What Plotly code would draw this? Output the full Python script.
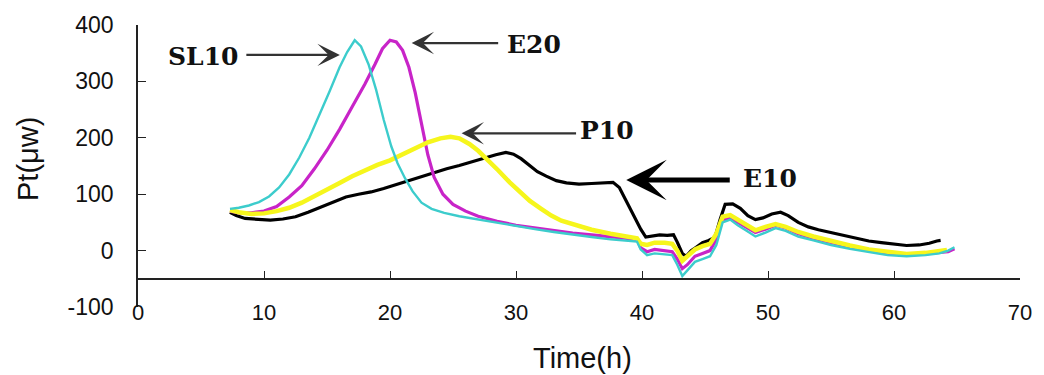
import plotly.graph_objects as go

# Heat-flow curves (time in hours, power in microwatts)
sl10_t = [7.3, 8.0, 8.8, 9.6, 10.4, 11.2, 12.0, 12.8, 13.6, 14.4, 15.2, 16.0, 16.6, 17.2, 17.7,
          18.3, 18.9, 19.5, 20.1, 20.6, 21.2, 21.8, 22.5, 23.3, 24.3, 25.5, 27.0, 28.5, 30.0,
          31.5, 33.0, 34.5, 36.0, 37.5, 39.0, 39.6, 39.9, 40.4, 41.0, 41.8, 42.4, 42.8, 43.2,
          43.6, 44.2, 44.8, 45.4, 45.9, 46.4, 47.0, 47.6, 48.3, 49.0, 49.8, 50.6, 51.4, 52.4,
          53.6, 55.0, 56.5, 58.0, 59.5, 61.0, 62.5, 63.6, 64.3, 64.8]
sl10_p = [74, 76, 80, 86, 96, 112, 135, 165, 200, 240, 282, 325, 352, 373, 362,
          330, 285, 232, 185, 155, 128, 105, 85, 74, 67, 61, 55, 49, 43,
          38, 33, 28, 24, 20, 17, 16, 2, -8, -5, -6, -8, -25, -45,
          -35, -20, -15, -10, 10, 50, 55, 45, 35, 25, 32, 40, 35, 25,
          18, 10, 3, -2, -8, -10, -8, -5, 0, 6]

e20_t = [7.3, 8.0, 9.0, 10.0, 11.0, 12.0, 13.0, 14.0, 15.0, 16.0, 17.0, 18.0, 18.8, 19.4,
         20.0, 20.5, 21.0, 21.5, 22.0, 22.5, 23.0, 23.5, 24.2, 25.0, 26.0, 27.0, 28.5, 30.0,
         31.5, 33.0, 34.5, 36.0, 37.5, 39.0, 39.6, 39.9, 40.4, 41.0, 41.8, 42.4, 42.8, 43.2,
         43.6, 44.2, 44.8, 45.4, 45.9, 46.4, 47.0, 47.6, 48.3, 49.0, 49.8, 50.6, 51.4, 52.4,
         53.6, 55.0, 56.5, 58.0, 59.5, 61.0, 62.5, 63.6, 64.3, 64.8]
e20_p = [70, 67, 67, 70, 78, 95, 115, 145, 178, 215, 255, 295, 330, 358,
         373, 370, 355, 325, 280, 222, 170, 130, 100, 82, 70, 61, 52, 45,
         40, 35, 31, 28, 25, 22, 20, 5, -2, 2, 0, -2, -15, -32,
         -25, -10, -5, 0, 20, 55, 58, 50, 40, 32, 38, 45, 40, 30,
         22, 14, 6, 0, -5, -8, -6, -3, -2, 3]

p10_t = [7.3, 8.0, 9.0, 10.0, 11.0, 12.0, 13.0, 14.0, 15.0, 16.0, 17.0, 18.0, 19.0, 20.0,
         21.0, 22.0, 23.0, 24.0, 24.8, 25.5, 26.3, 27.0, 27.8, 28.6, 29.5, 30.3, 31.1, 32.0,
         32.8, 33.6, 34.8, 36.0, 37.5, 39.0, 39.6, 39.9, 40.4, 41.0, 41.8, 42.4, 42.8, 43.2,
         43.6, 44.2, 44.8, 45.4, 45.9, 46.4, 47.0, 47.6, 48.3, 49.0, 49.8, 50.6, 51.4, 52.4,
         53.6, 55.0, 56.5, 58.0, 59.5, 61.0, 62.5, 63.6, 64.2]
p10_p = [72, 68, 65, 66, 70, 76, 85, 96, 108, 120, 132, 143, 152, 160,
         170, 182, 192, 199, 202, 199, 189, 177, 160, 142, 121, 104, 88, 74,
         62, 53, 45, 37, 30, 25, 22, 12, 10, 14, 14, 12, 0, -18,
         -10, 2, 8, 12, 30, 60, 63, 55, 45, 36, 42, 47, 42, 33,
         25, 17, 9, 2, -3, -6, -4, -1, 1]

e10_t = [7.3, 7.8, 8.5, 9.5, 10.5, 11.5, 12.5, 13.5, 14.5, 15.5, 16.5, 17.5, 18.5, 19.5,
         20.5, 21.5, 22.5, 23.5, 24.5, 25.5, 26.5, 27.4, 28.4, 29.2, 29.8, 30.4, 31.0, 31.7,
         32.4, 33.2, 34.0, 35.0, 36.0, 37.0, 37.7, 38.2, 38.6, 39.0, 39.5, 39.9, 40.3, 40.8,
         41.4, 42.0, 42.5, 42.8, 43.2, 43.5, 43.9, 44.3, 44.8, 45.3, 45.8, 46.2, 46.6, 47.2,
         47.8, 48.4, 49.0, 49.6, 50.3, 51.0, 51.6, 52.4, 53.2, 54.0, 55.0, 56.0, 57.0, 58.0,
         59.0, 60.0, 61.0, 62.0, 62.8, 63.4, 63.7]
e10_p = [68, 62, 57, 55, 54, 56, 60, 68, 77, 86, 95, 100, 104, 110,
         117, 124, 132, 139, 145, 151, 158, 164, 170, 174, 171, 163, 152, 140,
         132, 124, 120, 118, 119, 120, 121, 112, 95, 76, 55, 38, 24, 26,
         28, 27, 28, 15, -5, -10, 0, 6, 14, 18, 24, 55, 82, 83,
         75, 62, 55, 58, 65, 68, 62, 50, 42, 37, 32, 27, 22, 17,
         14, 11, 9, 10, 13, 17, 18]

x_ticks = [0, 10, 20, 30, 40, 50, 60, 70]
y_ticks = [-100, 0, 100, 200, 300, 400]

fig = go.Figure()
fig.add_trace(go.Scatter(x=e10_t, y=e10_p, mode="lines", name="E10",
                         line=dict(color="#000000", width=3.2)))
fig.add_trace(go.Scatter(x=e20_t, y=e20_p, mode="lines", name="E20",
                         line=dict(color="#c824c8", width=3.2)))
fig.add_trace(go.Scatter(x=p10_t, y=p10_p, mode="lines", name="P10",
                         line=dict(color="#f6f61c", width=4.5)))
fig.add_trace(go.Scatter(x=sl10_t, y=sl10_p, mode="lines", name="SL10",
                         line=dict(color="#3ccccc", width=2.4)))

sans = "Liberation Sans, Arial, sans-serif"
label_font = dict(family="DejaVu Serif, serif", size=25, color="#111111", weight="bold")

fig.update_layout(
    width=1044, height=375,
    margin=dict(l=138, r=23, t=23, b=68),
    plot_bgcolor="white", paper_bgcolor="white",
    showlegend=False,
    xaxis=dict(range=[0, 70], tickvals=x_ticks, ticktext=[str(v) for v in x_ticks],
               anchor="free", position=0.1,
               showline=True, linecolor="#222222", linewidth=1.6,
               ticks="inside", ticklen=7, tickwidth=1.4, tickcolor="#222222",
               ticklabelstandoff=14,
               showgrid=False, zeroline=False,
               tickfont=dict(family=sans, size=22, color="#111111")),
    yaxis=dict(range=[-100, 400], tickvals=y_ticks, ticktext=[str(v) for v in y_ticks],
               showline=True, linecolor="#222222", linewidth=1.6,
               ticks="inside", ticklen=8, tickwidth=1.4, tickcolor="#222222",
               ticklabelstandoff=18,
               showgrid=False, zeroline=False,
               tickfont=dict(family=sans, size=23, color="#111111")),
)

# axis titles
fig.add_annotation(text="Time(h)", xref="paper", yref="paper", x=0.504, y=-0.18,
                   showarrow=False, xanchor="center", yanchor="middle",
                   font=dict(family=sans, size=29, color="#111111"))
fig.add_annotation(text="Pt(μw)", xref="paper", yref="paper", x=-0.125, y=0.524,
                   showarrow=False, textangle=-90, xanchor="center", yanchor="middle",
                   font=dict(family=sans, size=29, color="#111111"))

# series labels with pointer arrows
labels = [
    ("SL10", 5.17, 345, 16.02, 347, -95, 2.2, "#333333", 1.7),
    ("E20", 31.46, 366, 21.72, 368, 88, 2.2, "#333333", 1.7),
    ("P10", 37.24, 213, 25.68, 208, 116, 2.2, "#333333", 1.7),
    ("E10", 50.15, 127, 38.75, 125, 105, 5, "#000000", 1.35),
]
for text, tx, ty, hx, hy, dx, w, col, hs in labels:
    fig.add_annotation(text=text, x=tx, y=ty, showarrow=False,
                       xanchor="center", yanchor="middle", font=label_font)
    fig.add_annotation(text="", x=hx, y=hy, ax=dx, ay=0, showarrow=True,
                       arrowhead=3, arrowsize=hs, arrowwidth=w, arrowcolor=col,
                       standoff=0, startstandoff=0)

fig.write_html("out.html")
